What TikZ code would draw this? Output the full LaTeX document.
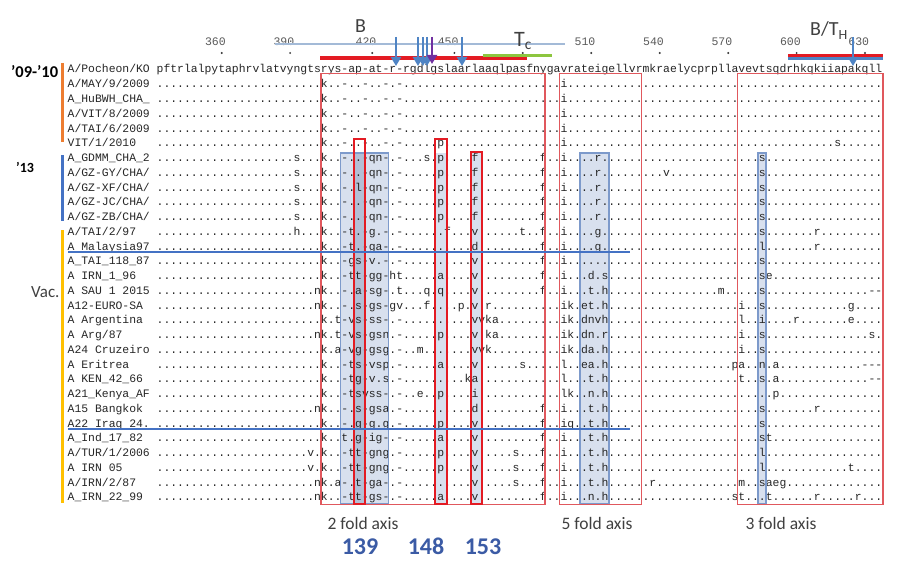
\documentclass[tikz,border=0pt]{standalone}
\usepackage{fontspec}
\setmainfont{Carlito}
\newfontfamily\seqfamily{Liberation Mono}
\usetikzlibrary{arrows.meta}
\ExplSyntaxOn
\cs_new:Npn \dotrun #1 { \prg_replicate:nn {#1} {.} }
\ExplSyntaxOff
\definecolor{seqgray}{HTML}{262626}
\definecolor{boxred}{HTML}{E0585D}
\definecolor{hired}{HTML}{E31B23}
\definecolor{bfill}{HTML}{D8E0EE}
\definecolor{bdraw}{HTML}{7D9ACB}
\definecolor{dfill}{HTML}{B4BFD5}
\definecolor{barorange}{HTML}{ED7D31}
\definecolor{barblue}{HTML}{4472C4}
\definecolor{bargold}{HTML}{FFC000}
\definecolor{arrowblue}{HTML}{4F84C4}
\definecolor{arrowpurple}{HTML}{7030A0}
\definecolor{lightline}{HTML}{A3BAD7}
\definecolor{tgreen}{HTML}{8DC63F}
\definecolor{numblue}{HTML}{3B5BA5}
\definecolor{labgray}{HTML}{404040}
\definecolor{rulegray}{HTML}{5A5A5A}
\newcommand{\seqfont}{\seqfamily\fontsize{11.407}{13}\selectfont}
\newcommand{\seqrow}[3]{%
  \node[seqtxt] (name#1) at (67.7,{73+14.75*(#1-1)}) {#2};
  \node[seqtxt] (seq#1) at (156.7,{73+14.75*(#1-1)}) {#3};}
\begin{document}
\begin{tikzpicture}[x=1pt,y=-1pt,
  seqtxt/.style={anchor=base west,inner sep=0pt,outer sep=0pt,font=\seqfont,text=seqgray},
  rulelab/.style={anchor=base east,inner sep=0pt,font=\seqfamily\fontsize{11.5}{13}\selectfont,text=rulegray},
  bluebox/.style={draw=bdraw,line width=1.1pt},
  bigbox/.style={draw=boxred,line width=1.1pt},
  hibox/.style={draw=hired,line width=2pt},
  arr/.style={draw=arrowblue,line width=2.2pt,-{Triangle[width=10pt,length=9pt]}},
  axislab/.style={anchor=base,inner sep=0pt,font=\fontsize{17.5}{20}\selectfont,text=labgray},
  numlab/.style={anchor=base,inner sep=0pt,font=\bfseries\fontsize{24}{26}\selectfont,text=numblue},
  toplab/.style={anchor=base west,inner sep=0pt,font=\fontsize{20}{22}\selectfont,text=labgray},
  grouplab/.style={anchor=base west,inner sep=0pt,text=black}]
\useasboundingbox (0,0) rectangle (909,567);
\fill[white] (0,0) rectangle (909,567);

% shaded columns
\fill[bfill] (340.5,153) rectangle (388.5,504);
\fill[dfill] (353.5,153) rectangle (365,504);
\fill[bfill] (435,153) rectangle (446.5,504);
\fill[bfill] (470.5,153) rectangle (481.5,504);
\fill[bfill] (580,153) rectangle (609,504);
\fill[bfill] (758,153) rectangle (766,504);

% sequence rows
\seqrow{1}{A/Pocheon/KO}{pftrlalpytaphrvlatvyngtsrys-ap-at-r-rgdlgslaarlaaqlpasfnygavrateigellvrmkraelycprpllavevtsqdrhkqkiiapakqll}
\seqrow{2}{A/MAY/9/2009}{\dotrun{24}k..-..-..-.-\dotrun{23}i\dotrun{46}}
\seqrow{3}{A\_HuBWH\_CHA\_}{\dotrun{24}k..-..-..-.-\dotrun{23}i\dotrun{46}}
\seqrow{4}{A/VIT/8/2009}{\dotrun{24}k..-..-..-.-\dotrun{23}i\dotrun{46}}
\seqrow{5}{A/TAI/6/2009}{\dotrun{24}k..-..-..-.-\dotrun{23}i\dotrun{46}}
\seqrow{6}{VIT/1/2010}{\dotrun{24}k..-..-..-.-\dotrun{5}p\dotrun{17}i\dotrun{39}s\dotrun{6}}
\seqrow{7}{A\_GDMM\_CHA\_2}{\dotrun{20}s\dotrun{3}k..-..-qn-.-\dotrun{3}s.p\dotrun{4}f\dotrun{9}f..i\dotrun{4}r\dotrun{6}\dotrun{14}\dotrun{3}s\dotrun{17}}
\seqrow{8}{A/GZ-GY/CHA/}{\dotrun{20}s\dotrun{3}k..-..-qn-.-\dotrun{5}p\dotrun{4}f\dotrun{9}f..i\dotrun{4}r\dotrun{6}\dotrun{3}v\dotrun{10}\dotrun{3}s\dotrun{17}}
\seqrow{9}{A/GZ-XF/CHA/}{\dotrun{20}s\dotrun{3}k..-.l-qn-.-\dotrun{5}p\dotrun{4}f\dotrun{9}f..i\dotrun{4}r\dotrun{6}\dotrun{14}\dotrun{3}s\dotrun{17}}
\seqrow{10}{A/GZ-JC/CHA/}{\dotrun{20}s\dotrun{3}k..-..-qn-.-\dotrun{5}p\dotrun{4}f\dotrun{9}f..i\dotrun{4}r\dotrun{6}\dotrun{14}\dotrun{3}s\dotrun{17}}
\seqrow{11}{A/GZ-ZB/CHA/}{\dotrun{20}s\dotrun{3}k..-..-qn-.-\dotrun{5}p\dotrun{4}f\dotrun{9}f..i\dotrun{4}r\dotrun{6}\dotrun{14}\dotrun{3}s\dotrun{17}}
\seqrow{12}{A/TAI/2/97}{\dotrun{20}h\dotrun{3}k..-t.-g.-.-\dotrun{6}f\dotrun{3}v\dotrun{6}t..f..i\dotrun{4}g\dotrun{6}\dotrun{14}\dotrun{3}s\dotrun{7}r\dotrun{9}}
\seqrow{13}{A Malaysia97}{\dotrun{24}k..-t.-ga-.-\dotrun{10}d\dotrun{9}f..i\dotrun{4}g\dotrun{6}\dotrun{14}\dotrun{3}l\dotrun{7}r\dotrun{9}}
\seqrow{14}{A\_TAI\_118\_87}{\dotrun{24}k..-gs-v.-.-\dotrun{10}v\dotrun{9}f..i\dotrun{11}\dotrun{14}\dotrun{3}s\dotrun{17}}
\seqrow{15}{A IRN\_1\_96}{\dotrun{24}k..-tt-gg-ht\dotrun{5}a\dotrun{4}v\dotrun{9}f..i...d.s\dotrun{5}\dotrun{14}\dotrun{3}se\dotrun{16}}
\seqrow{16}{A SAU 1 2015}{\dotrun{23}nk..-.a-sg-.t\dotrun{3}q.q\dotrun{4}v\dotrun{9}f..i...t.h\dotrun{5}\dotrun{11}m..\dotrun{3}s\dotrun{15}--}
\seqrow{17}{A12-EURO-SA}{\dotrun{23}nk..-.s-gs-gv\dotrun{3}f\dotrun{4}p.v.r\dotrun{10}ik.et.h\dotrun{5}\dotrun{14}i..s\dotrun{12}g\dotrun{4}}
\seqrow{18}{A Argentina}{\dotrun{24}k.t-vs-ss-.-\dotrun{10}vvka\dotrun{9}ik.dnvh\dotrun{5}\dotrun{14}l..i\dotrun{4}r\dotrun{7}e\dotrun{4}}
\seqrow{19}{A Arg/87}{\dotrun{23}nk.t-vs-gsn.-\dotrun{5}p\dotrun{4}v.ka\dotrun{9}ik.dn.r\dotrun{5}\dotrun{14}i..s\dotrun{15}s.}
\seqrow{20}{A24 Cruzeiro}{\dotrun{24}k.a-vg-gsg.-..m\dotrun{7}vvk\dotrun{10}ik.da.h\dotrun{5}\dotrun{14}i..s\dotrun{17}}
\seqrow{21}{A Eritrea}{\dotrun{24}k..-ts-vsp.-\dotrun{5}a\dotrun{4}v\dotrun{6}s\dotrun{5}l..ea.h\dotrun{5}\dotrun{13}pa..n.a\dotrun{12}---}
\seqrow{22}{A KEN\_42\_66}{\dotrun{24}k..-tg-v.s.-\dotrun{9}ka\dotrun{12}l...t.h\dotrun{5}\dotrun{14}t..s.a\dotrun{13}--}
\seqrow{23}{A21\_Kenya\_AF}{\dotrun{24}k..-tsvss-.-..e..p\dotrun{4}i\dotrun{12}lk..n.h\dotrun{5}\dotrun{14}\dotrun{5}p\dotrun{15}}
\seqrow{24}{A15 Bangkok}{\dotrun{23}nk..-.s-gsa.-\dotrun{10}d\dotrun{9}f..i...t.h\dotrun{5}\dotrun{14}\dotrun{3}s\dotrun{7}r\dotrun{9}}
\seqrow{25}{A22 Iraq 24.}{\dotrun{24}k..-.g-g.g.-\dotrun{5}p\dotrun{4}v\dotrun{9}f..iq..t.h\dotrun{5}\dotrun{14}\dotrun{3}s\dotrun{17}}
\seqrow{26}{A\_Ind\_17\_82}{\dotrun{24}k..t.g-ig-.-\dotrun{5}a\dotrun{4}v\dotrun{9}f..i...t.h\dotrun{5}\dotrun{14}\dotrun{3}st\dotrun{16}}
\seqrow{27}{A/TUR/1/2006}{\dotrun{22}v.k..-tt-gng.-\dotrun{5}p\dotrun{4}v\dotrun{5}s\dotrun{3}f..i...t.h\dotrun{5}\dotrun{14}\dotrun{3}l\dotrun{17}}
\seqrow{28}{A IRN 05}{\dotrun{22}v.k..-tt-gng.-\dotrun{5}p\dotrun{4}v\dotrun{5}s\dotrun{3}f..i...t.h\dotrun{5}\dotrun{14}\dotrun{3}l\dotrun{12}t\dotrun{4}}
\seqrow{29}{A/IRN/2/87}{\dotrun{23}nk.a-.t-ga-.-\dotrun{10}v\dotrun{5}s\dotrun{3}f..i...t.h\dotrun{5}.r\dotrun{12}m..saeg\dotrun{14}}
\seqrow{30}{A\_IRN\_22\_99}{\dotrun{23}nk..-tt-gs-.-\dotrun{5}a\dotrun{4}v\dotrun{9}f..i...n.h\dotrun{5}\dotrun{13}st...t\dotrun{6}r\dotrun{5}r\dotrun{3}}

% box outlines
\draw[bluebox] (340.5,153) rectangle (388.5,504);
\draw[bluebox] (580,153) rectangle (609,504);
\draw[bluebox] (758,153) rectangle (766,504);
\draw[bigbox] (321,73.5) rectangle (545,504.5);
\draw[bigbox] (559.5,73.5) rectangle (641.5,504.5);
\draw[bigbox] (737.5,73.5) rectangle (883,504.5);
\draw[hibox] (353.5,139) rectangle (365,504);
\draw[hibox] (435,139) rectangle (446.5,504);
\draw[hibox] (470.5,152) rectangle (481.5,504);

% group separators
\draw[barblue,line width=2pt] (68,252) -- (630,252);
\draw[barblue,line width=2pt] (68,429) -- (630,429);

% group bars and labels
\draw[barorange,line width=2.5pt] (62.5,63) -- (62.5,142);
\draw[barblue,line width=2.5pt] (62.5,155) -- (62.5,221);
\draw[bargold,line width=2.5pt] (62.5,230) -- (62.5,503);
\node[grouplab,font=\bfseries\fontsize{16.5}{18}\selectfont] (g1) at (11,78) {’09-’10};
\node[grouplab,font=\bfseries\fontsize{14}{16}\selectfont] (g2) at (16,172) {’13};
\node[grouplab,font=\fontsize{17}{19}\selectfont,text=labgray] (g3) at (31,297) {Vac.};

% ruler
\foreach \lab/\i in {360/9,390/19,420/31,450/43,510/63,540/73,570/83,600/93,630/103}{
  \node[rulelab] (r\lab) at ({160.1+6.844*\i+4.3},46) {\lab};
}
\foreach \i in {9,19,31,43,53,63,73,83,93,103}{
  \fill[black!80] ({160.1+6.844*\i},53) circle (1.1);
}
\draw[lightline,line width=1.3pt] (275,44) -- (565,44);

% epitope bars
\draw[hired,line width=4pt] (320,58) -- (527,58);
\draw[tgreen,line width=3.5pt] (483,55.5) -- (552,55.5);
\draw[arrowblue,line width=3pt] (788,58.5) -- (883,58.5);
\draw[hired,line width=2.6pt] (788,55.5) -- (883,55.5);

% epitope labels
\node[toplab] (labB) at (355,33) {B};
\node[toplab,font=\fontsize{22}{24}\selectfont] (labTc) at (514,46.5) {T\textsubscript{c}};
\node[toplab] (labBT) at (810,36) {B/T\textsubscript{H}};

% arrows
\coordinate (a1s) at (396,37);  \coordinate (a1e) at (396,66);
\coordinate (a2s) at (418,37);  \coordinate (a2e) at (418,66);
\coordinate (a3s) at (423,37);  \coordinate (a3e) at (423,66);
\coordinate (a4s) at (427,37);  \coordinate (a4e) at (427,66);
\coordinate (a5s) at (432,37);  \coordinate (a5e) at (432,64);
\coordinate (a6s) at (462,37);  \coordinate (a6e) at (462,66);
\coordinate (a7s) at (853,37);  \coordinate (a7e) at (853,66);
\draw[arr] (a1s) -- (a1e);
\draw[arr] (a2s) -- (a2e);
\draw[arr] (a3s) -- (a3e);
\draw[arr] (a4s) -- (a4e);
\draw[arr,draw=arrowpurple] (a5s) -- (a5e);
\draw[arr] (a6s) -- (a6e);
\draw[arr] (a7s) -- (a7e);

% axis labels
\node[axislab] (ax2) at (363,529) {2 fold axis};
\node[axislab] (ax5) at (597,529) {5 fold axis};
\node[axislab] (ax3) at (781,529) {3 fold axis};
\node[numlab] (n139) at (360,554) {139};
\node[numlab] (n148) at (426,554) {148};
\node[numlab] (n153) at (483,554) {153};
\end{tikzpicture}
\end{document}
